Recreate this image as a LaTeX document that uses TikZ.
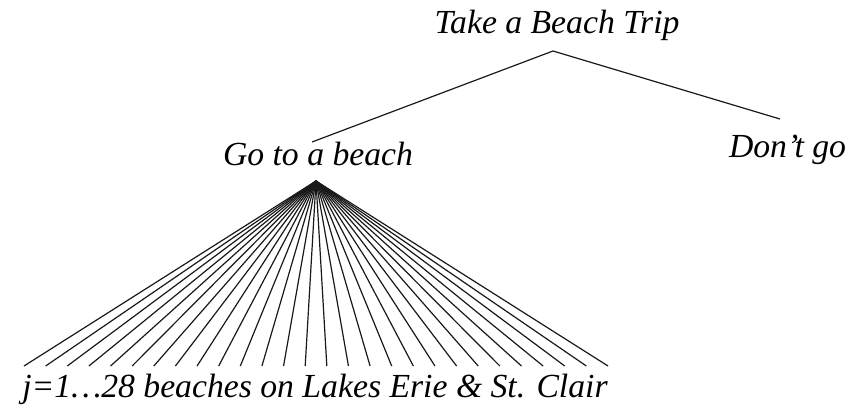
\documentclass[tikz,border=0pt]{standalone}
\usepackage{fontspec}
\setmainfont{Liberation Serif}
\begin{document}
\begin{tikzpicture}[x=1pt,y=-1pt,
  lbl/.style={inner sep=0pt,anchor=base,font=\fontsize{33.7}{40}\selectfont\itshape},
  edge/.style={line width=1.2pt,black!90}]
\useasboundingbox (0,0) rectangle (850,407);
\node[lbl] (trip) at (557,33) {Take a Beach Trip};
\node[lbl] (go) at (318,165) {Go to a beach};
\node[lbl] (dont) at (787.5,157) {Don’t go};
\node[lbl] (beaches) at (315,397) {j=1…28 beaches on Lakes Erie \& St. Clair};
\coordinate (tripapex) at (553,51);
\coordinate (goend) at (312,142);
\coordinate (dontend) at (780,119);
\coordinate (fanapex) at (316,181);
\draw[edge] (goend) -- (tripapex) -- (dontend);
\foreach \i in {0,...,27}{
  \coordinate (b\i) at ({24+\i*21.63},366);
  \draw[edge] (fanapex) -- (b\i);
}
\end{tikzpicture}
\end{document}
